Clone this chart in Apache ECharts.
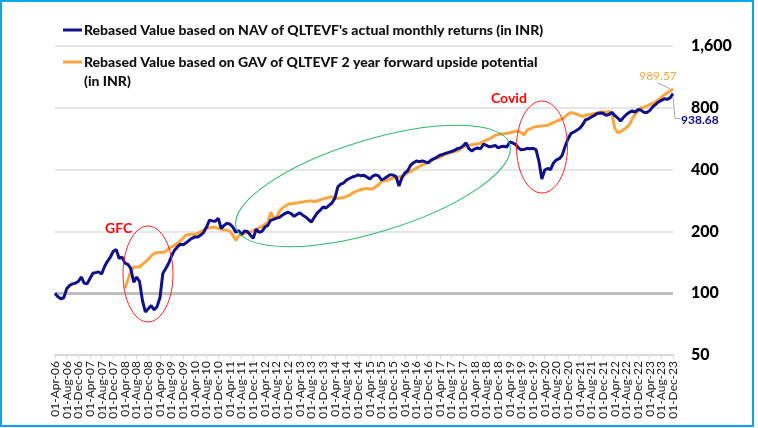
<!DOCTYPE html>
<html>
<head>
<meta charset="utf-8">
<script src="https://cdn.jsdelivr.net/npm/echarts@6/dist/echarts.min.js"></script>
<style>
html,body{margin:0;padding:0;background:#fff;}
#chart{width:758px;height:428px;}
</style>
</head>
<body>
<div id="chart"></div>
<script>
// ---- data ----
const MONTHS = ['Jan','Feb','Mar','Apr','May','Jun','Jul','Aug','Sep','Oct','Nov','Dec'];
const START_MONTH = 3, START_YEAR = 2006, N_MONTHS = 213; // Apr-06 .. Dec-23
const LABEL_EVERY = 4; // one tick label every 4 months
const categories = [];
for (let i = 0; i < N_MONTHS; i++) {
  const m = (START_MONTH + i) % 12;
  const y = START_YEAR + Math.floor((START_MONTH + i) / 12);
  categories.push('01-' + MONTHS[m] + '-' + String(y).slice(2));
}
const navName = "Rebased Value based on NAV of QLTEVF's actual monthly returns (in INR)";
const gavNameLines = ["Rebased Value based on GAV of QLTEVF 2 year forward upside potential", "(in INR)"];
const gavName = gavNameLines.join(' ');
const navValues = [
  100, 96, 94, 95, 105, 109, 111, 112, 114, 120, 112, 111,
  118, 125, 126, 127, 124, 135, 143, 150, 160, 163, 148, 150,
  140, 138, 132, 113, 120, 114, 92, 81, 84, 87, 83, 86,
  95, 125, 132, 140, 152, 162, 168, 173, 172, 176, 181, 185,
  188, 188, 192, 198, 210, 227, 225, 224, 232, 207, 214, 219,
  217, 210, 198, 202, 193, 201, 200, 192, 185, 205, 198, 200,
  210, 214, 227, 229, 232, 234, 240, 245, 248, 244, 237, 242,
  246, 240, 235, 228, 222, 235, 246, 254, 263, 260, 268, 275,
  290, 329, 340, 344, 356, 362, 368, 372, 377, 373, 375, 368,
  360, 372, 377, 373, 356, 362, 370, 378, 376, 370, 333, 365,
  385, 395, 420, 432, 441, 437, 441, 436, 431, 445, 452, 460,
  470, 474, 480, 485, 490, 496, 506, 510, 522, 540, 505, 493,
  505, 510, 505, 532, 525, 516, 520, 525, 510, 518, 520, 515,
  546, 540, 530, 510, 499, 502, 508, 505, 508, 500, 440, 360,
  398, 405, 400, 431, 446, 452, 470, 520, 565, 600, 610, 622,
  636, 662, 700, 707, 721, 735, 750, 755, 752, 735, 742, 760,
  735, 715, 690, 718, 742, 760, 773, 762, 785, 780, 760, 758,
  775, 808, 830, 854, 870, 885, 880, 895, 938.68
];
const gavValues = [
  null, null, null, null, null, null, null, null, null, null, null, null,
  null, null, null, null, null, null, null, null, null, null, null, null,
  106, 116, 128, 134, 134, 134, 138, 142, 146, 152, 156, 158,
  158, 158, 160, 165, 168, 171, 175, 180, 186, 192, 193, 194,
  193, 196, 200, 203, 207, 208, 210, 209, 207, 205, 203, 203,
  200, 192, 181, 190, 194, 196, 197, 198, 202, 205, 208, 212,
  216, 221, 248, 232, 234, 251, 260, 266, 271, 273, 274, 275,
  277, 278, 280, 281, 281, 279, 282, 285, 288, 291, 293, 295,
  289, 290, 291, 292, 296, 300, 307, 312, 317, 320, 322, 324,
  322, 323, 330, 337, 351, 352, 355, 360, 364, 366, 368, 372,
  378, 385, 392, 400, 407, 414, 422, 428, 434, 442, 450, 455,
  460, 468, 476, 482, 486, 490, 493, 505, 516, 520, 526, 528,
  532, 534, 538, 548, 558, 565, 575, 588, 592, 596, 598, 602,
  605, 610, 615, 612, 605, 590, 625, 632, 642, 648, 650, 652,
  655, 657, 668, 678, 688, 698, 707, 725, 745, 758, 752, 745,
  735, 728, 735, 742, 745, 750, 755, 762, 765, 760, 768, 755,
  636, 605, 612, 625, 640, 660, 705, 745, 770, 800, 805, 815,
  830, 842, 855, 875, 903, 925, 945, 965, 989.57
];
const yTickValues = [50, 100, 200, 400, 800, 1600];
const baseLineValue = 100;

// ---- chart ----
const FONT = 'Lato';
const NAVY = '#101088';
const ORANGE = '#FBA640';
const Y_BASE = yTickValues[0];
const toLog = v => (v == null ? null : Math.log2(v / Y_BASE));

const chart = echarts.init(document.getElementById('chart'), null, {renderer: 'canvas'});
chart.setOption({
  animation: false,
  backgroundColor: '#fff',
  textStyle: {fontFamily: FONT},
  grid: {left: 55, right: 85, top: 46, bottom: 73},
  xAxis: {
    type: 'category', data: categories, boundaryGap: false,
    axisLine: {lineStyle: {color: '#d9d9d9', width: 2}},
    axisTick: {show: true, interval: LABEL_EVERY - 1, length: 4, lineStyle: {color: '#d9d9d9'}},
    axisLabel: {interval: 0, rotate: 90, fontSize: 12, color: '#1a1a1a', margin: 6, fontFamily: FONT,
                formatter: (v, i) => (i % LABEL_EVERY === 0 ? v : '')},
    splitLine: {show: false}
  },
  yAxis: {
    type: 'value', position: 'right',
    min: 0, max: Math.log2(yTickValues[yTickValues.length - 1] / Y_BASE), interval: 1,
    axisLine: {show: false}, axisTick: {show: false},
    axisLabel: {
      formatter: k => Math.round(Y_BASE * Math.pow(2, k)).toLocaleString('en-US'),
      fontWeight: 900, fontSize: 16, color: '#000', margin: 18, fontFamily: FONT
    },
    splitLine: {lineStyle: {color: '#e6e6e6', width: 2}}
  },
  series: [
    {
      name: gavName, type: 'line', data: gavValues.map(toLog), showSymbol: false,
      lineStyle: {color: ORANGE, width: 3}, itemStyle: {color: ORANGE}, z: 3,
      markLine: {
        silent: true, symbol: 'none', label: {show: false},
        lineStyle: {color: '#bfbfbf', width: 3, type: 'solid'},
        data: [{yAxis: toLog(baseLineValue)}], z: 1
      }
    },
    {
      name: navName, type: 'line', data: navValues.map(toLog), showSymbol: false,
      lineStyle: {color: NAVY, width: 3}, itemStyle: {color: NAVY}, z: 4
    }
  ]
});

// end-value labels positioned from the data via the axes
const last = N_MONTHS - 1;
const pN = chart.convertToPixel({xAxisIndex: 0, yAxisIndex: 0}, [last, toLog(navValues[last])]);
const pG = chart.convertToPixel({xAxisIndex: 0, yAxisIndex: 0}, [last, toLog(gavValues[last])]);
const legendFont = '900 14px Lato';

chart.setOption({
  graphic: [
    {type: 'rect', shape: {x: 1, y: 1, width: 752, height: 425}, style: {fill: 'none', stroke: '#0AA8E8', lineWidth: 2}, silent: true, z: 100},
    // legend
    {type: 'rect', shape: {x: 63, y: 28.5, width: 19, height: 3}, style: {fill: NAVY}, z: 60},
    {type: 'text', x: 84, y: 30, style: {text: navName, fill: '#111', font: legendFont, textVerticalAlign: 'middle'}, z: 60},
    {type: 'rect', shape: {x: 63, y: 60.5, width: 19, height: 3}, style: {fill: ORANGE}, z: 60},
    {type: 'text', x: 84, y: 62, style: {text: gavNameLines[0], fill: '#111', font: legendFont, textVerticalAlign: 'middle'}, z: 60},
    {type: 'text', x: 84, y: 81, style: {text: gavNameLines[1], fill: '#111', font: legendFont, textVerticalAlign: 'middle'}, z: 60},
    // GFC
    {type: 'text', left: 105, top: 221, style: {text: 'GFC', fill: '#FF0000', font: 'bold 14px Lato'}, z: 50},
    {type: 'ellipse', shape: {cx: 148, cy: 274, rx: 25, ry: 48}, style: {fill: 'none', stroke: '#FF2020', lineWidth: 1}, z: 50},
    // Covid
    {type: 'text', left: 491, top: 91, style: {text: 'Covid', fill: '#FF0000', font: 'bold 14px Lato'}, z: 50},
    {type: 'ellipse', shape: {cx: 542, cy: 147, rx: 25.5, ry: 46}, style: {fill: 'none', stroke: '#FF2020', lineWidth: 1}, z: 50},
    // green trend ellipse
    {type: 'ellipse', x: 373, y: 186, rotation: 17 * Math.PI / 180, shape: {cx: 0, cy: 0, rx: 143, ry: 46}, style: {fill: 'none', stroke: '#2DB86A', lineWidth: 1}, z: 50},
    // GAV end label
    {type: 'polyline', shape: {points: [[pG[0] - 15, pG[1] - 6], [pG[0] - 3, pG[1]]]}, style: {stroke: '#a6a6a6', lineWidth: 1, fill: 'none'}, z: 50},
    {type: 'text', x: pG[0] - 15, y: pG[1] - 13, style: {text: gavValues[last].toFixed(2), fill: ORANGE, font: '12px Lato', textAlign: 'center', textVerticalAlign: 'middle'}, z: 50},
    // NAV end label
    {type: 'polyline', shape: {points: [[pN[0], pN[1] + 3], [pN[0] + 2, pN[1] + 25], [pN[0] + 7, pN[1] + 25]]}, style: {stroke: '#a6a6a6', lineWidth: 1, fill: 'none'}, z: 50},
    {type: 'text', x: pN[0] + 8, y: pN[1] + 27, style: {text: navValues[last].toFixed(2), fill: NAVY, font: 'bold 12px Lato', textAlign: 'left', textVerticalAlign: 'middle'}, z: 50}
  ]
});
</script>
</body>
</html>
